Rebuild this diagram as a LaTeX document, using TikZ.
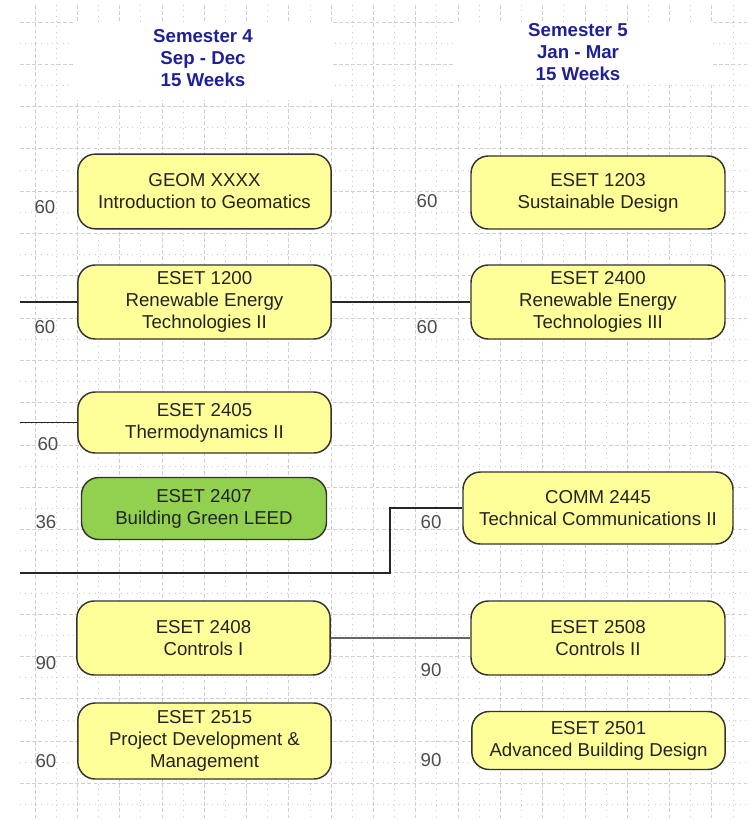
\documentclass[tikz,border=0pt]{standalone}
\usepackage{xcolor}
\usepackage{fontspec}
\usepackage{tikz}
\setmainfont{Liberation Sans}

\definecolor{boxyellow}{RGB}{255,255,153}
\definecolor{boxgreen}{RGB}{146,208,80}
\definecolor{semblue}{RGB}{32,32,150}
\definecolor{txtgray}{RGB}{35,35,35}

\begin{document}
\begin{tikzpicture}[x=0.75pt, y=-0.75pt,
    course/.style={draw=black!80, line width=1.1pt, rounded corners=13pt, fill=boxyellow,
        align=center, inner sep=0pt, text=txtgray, font=\fontsize{14}{16.5}\selectfont},
    hours/.style={text=black!70, inner sep=0pt, font=\fontsize{14}{16.5}\selectfont},
    semester/.style={text=semblue, align=center, inner sep=0pt, font=\bfseries\fontsize{14}{16.5}\selectfont},
    minorline/.style={gray!40, line width=0.6pt, dash pattern=on 0.8pt off 3.2pt},
    majorline/.style={gray!38, line width=0.6pt, dash pattern=on 2.8pt off 1.8pt},
    link/.style={black!85, line width=1.1pt}]
    \useasboundingbox (0,0) rectangle (750,820);

    % background grid
    \begin{scope}
        \clip (20,5) rectangle (750,820);
        \foreach \k [evaluate=\k as \x using 35+21.15*\k] in {1,3,...,33}
            \draw[minorline] (\x,5) -- (\x,820);
        \foreach \k [evaluate=\k as \x using 35+21.15*\k] in {0,2,...,34}
            \draw[majorline] (\x,5) -- (\x,820);
        \foreach \k [evaluate=\k as \y using 22+21.15*\k] in {1,3,...,37}
            \draw[minorline] (20,\y) -- (750,\y);
        \foreach \k [evaluate=\k as \y using 22+21.15*\k] in {0,2,...,38}
            \draw[majorline] (20,\y) -- (750,\y);
    \end{scope}
    \fill[white] (73,22) rectangle (332,100);
    \fill[white] (453,22) rectangle (712,85);

    % semester headers
    \node[semester] (sem4) at (203,58) {Semester 4\\Sep - Dec\\15 Weeks};
    \node[semester] (sem5) at (578,52) {Semester 5\\Jan - Mar\\15 Weeks};

    % semester 4
    \node[course, minimum width=190pt, minimum height=56pt] (geom) at (204.5,191.5) {GEOM XXXX\\Introduction to Geomatics};
    \node[course, minimum width=190pt, minimum height=55.5pt] (e1200) at (204.5,302) {ESET 1200\\Renewable Energy\\Technologies II};
    \node[course, minimum width=190pt, minimum height=45.75pt] (e2405) at (204.5,422.5) {ESET 2405\\Thermodynamics II};
    \node[course, fill=boxgreen, minimum width=183.75pt, minimum height=46.5pt] (e2407) at (204,508.5) {ESET 2407\\Building Green LEED};
    \node[course, minimum width=190pt, minimum height=55.5pt] (e2408) at (203.5,638) {ESET 2408\\Controls I};
    \node[course, minimum width=190pt, minimum height=57pt] (e2515) at (204.5,741) {ESET 2515\\Project Development \&\\Management};

    % semester 5
    \node[course, minimum width=190.5pt, minimum height=54.75pt] (e1203) at (598,192.5) {ESET 1203\\Sustainable Design};
    \node[course, minimum width=190.5pt, minimum height=55.5pt] (e2400) at (598,302) {ESET 2400\\Renewable Energy\\Technologies III};
    \node[course, minimum width=202.5pt, minimum height=54pt] (c2445) at (598,508) {COMM 2445\\Technical Communications II};
    \node[course, minimum width=190.5pt, minimum height=55.5pt] (e2508) at (598,638) {ESET 2508\\Controls II};
    \node[course, minimum width=190pt, minimum height=43.5pt] (e2501) at (598.5,740.5) {ESET 2501\\Advanced Building Design};

    % hours
    \node[hours] (h1) at (45,207) {60};
    \node[hours] (h2) at (45,327) {60};
    \node[hours] (h3) at (48,444) {60};
    \node[hours] (h4) at (46,522) {36};
    \node[hours] (h5) at (46,663) {90};
    \node[hours] (h6) at (46,761) {60};
    \node[hours] (h7) at (427,201) {60};
    \node[hours] (h8) at (427,327) {60};
    \node[hours] (h9) at (431,522) {60};
    \node[hours] (h10) at (431,670) {90};
    \node[hours] (h11) at (431,760) {90};

    % connectors
    \coordinate (in1) at (20,302);
    \coordinate (in2) at (20,422.5);
    \coordinate (in3) at (20,573);
    \coordinate (turn) at (390,573);
    \draw[link] (in1) -- (e1200);
    \draw[link] (e1200) -- (e2400);
    \draw[link] (in2) -- (e2405);
    \draw[link] (in3) -- (turn) |- (c2445.west);
    \draw[link, black!60] (e2408) -- (e2508);
\end{tikzpicture}
\end{document}
